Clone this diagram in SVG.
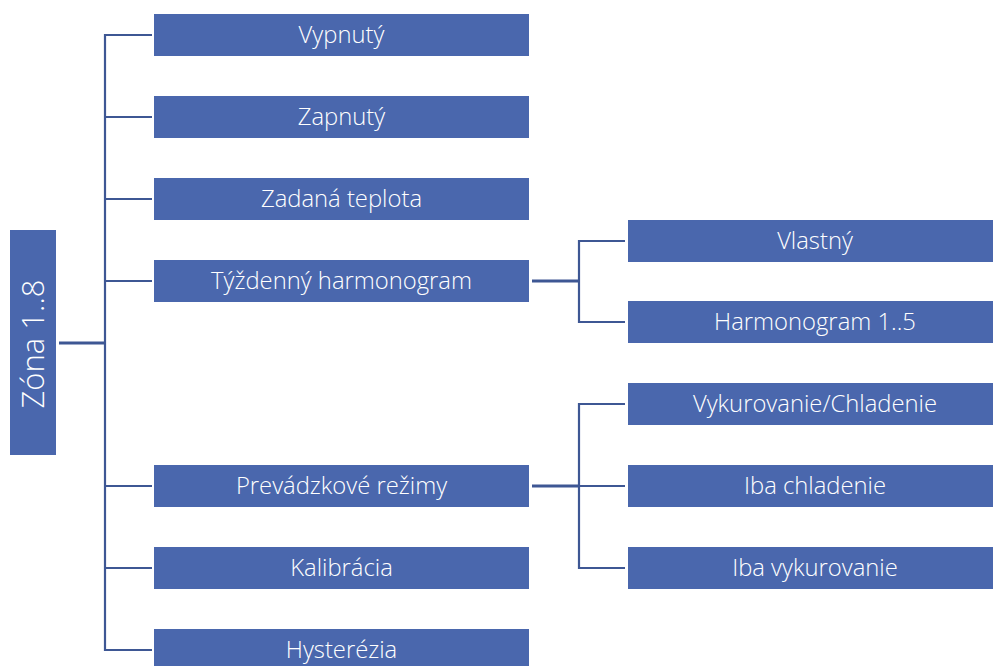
<svg xmlns="http://www.w3.org/2000/svg" width="993" height="666" viewBox="0 0 993 666">
<style>
.box{fill:#4a67ad;}
.t{fill:#ffffff;font-family:"Open Sans","Liberation Sans",sans-serif;font-weight:300;font-size:23.8px;text-anchor:middle;}
.c{fill:none;stroke:#3e5794;stroke-width:2.2;}
</style>
<rect width="993" height="666" fill="#ffffff"/>
<g id="connectors">
<line class="c" x1="59" y1="343" x2="105" y2="343" style="stroke-width:3"/>
<path class="c" d="M152 35 H105 V650 H152"/>
<path class="c" d="M105 117 H152 M105 199 H152 M105 281 H152 M105 486 H152 M105 568 H152"/>
<line class="c" x1="532" y1="281" x2="579" y2="281" style="stroke-width:3"/>
<path class="c" d="M625 241 H579 V322 H625"/>
<line class="c" x1="532" y1="486" x2="579" y2="486" style="stroke-width:3"/>
<path class="c" d="M625 404 H579 V568 H625 M579 486 H625"/>
</g>
<g id="zona"><rect class="box" x="10" y="230" width="46" height="225"/><text class="t" transform="translate(44 344) rotate(-90)" style="font-size:31px">Zóna 1..8</text></g>
<g id="vypnuty"><rect class="box" x="154" y="14" width="375" height="42"/><text class="t" x="341.5" y="43">Vypnutý</text></g>
<g id="zapnuty"><rect class="box" x="154" y="96" width="375" height="42"/><text class="t" x="341.5" y="125">Zapnutý</text></g>
<g id="zadana"><rect class="box" x="154" y="178" width="375" height="42"/><text class="t" x="341.5" y="207">Zadaná teplota</text></g>
<g id="tyzdenny"><rect class="box" x="154" y="260" width="375" height="42"/><text class="t" x="341.5" y="289">Týždenný harmonogram</text></g>
<g id="prevadzkove"><rect class="box" x="154" y="465" width="375" height="42"/><text class="t" x="341.5" y="494">Prevádzkové režimy</text></g>
<g id="kalibracia"><rect class="box" x="154" y="547" width="375" height="42"/><text class="t" x="341.5" y="576">Kalibrácia</text></g>
<g id="hysterezia"><rect class="box" x="154" y="629" width="375" height="42"/><text class="t" x="341.5" y="658">Hysterézia</text></g>
<g id="vlastny"><rect class="box" x="628" y="220" width="365" height="42"/><text class="t" x="815" y="249">Vlastný</text></g>
<g id="harmonogram"><rect class="box" x="628" y="301" width="365" height="42"/><text class="t" x="815" y="330">Harmonogram 1..5</text></g>
<g id="vykurovanie-chladenie"><rect class="box" x="628" y="383" width="365" height="42"/><text class="t" x="815" y="412">Vykurovanie/Chladenie</text></g>
<g id="iba-chladenie"><rect class="box" x="628" y="465" width="365" height="42"/><text class="t" x="815" y="494">Iba chladenie</text></g>
<g id="iba-vykurovanie"><rect class="box" x="628" y="547" width="365" height="42"/><text class="t" x="815" y="576">Iba vykurovanie</text></g>
</svg>
